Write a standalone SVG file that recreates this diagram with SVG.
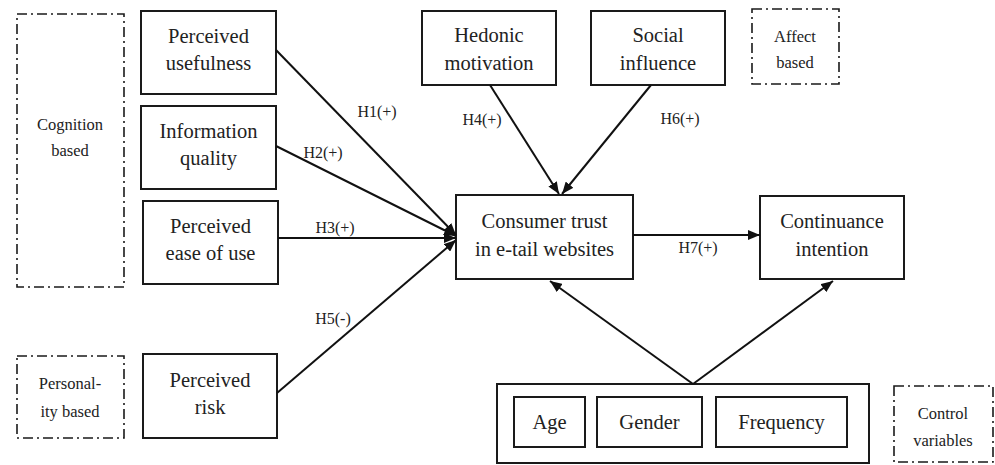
<svg xmlns="http://www.w3.org/2000/svg" width="995" height="465" viewBox="0 0 995 465">
<defs>
<style>
.n{fill:#fff;stroke:#1a1a1a;stroke-width:2}
.d{fill:none;stroke:#1a1a1a;stroke-width:1.6;stroke-dasharray:10,4,2,4}
text{font-family:'Liberation Serif','DejaVu Serif',serif;fill:#222;text-anchor:middle}
.t{font-size:20.5px}
.s{font-size:16.5px}
.l{font-size:16px}
.c{stroke:#111;stroke-width:2;fill:none}
</style>
<marker id="ah" viewBox="0 0 12 10" refX="12" refY="5" markerWidth="12" markerHeight="10" markerUnits="userSpaceOnUse" orient="auto">
<path d="M0,0 L12,5 L0,10 z" fill="#111"/>
</marker>
</defs>
<rect width="995" height="465" fill="#fff"/>

<g id="cognition">
<rect class="d" x="17" y="14" width="107" height="273"/>
<text class="s" x="70" y="130">Cognition</text>
<text class="s" x="70" y="156">based</text>
</g>
<g id="personality">
<rect class="d" x="17" y="356" width="107" height="82"/>
<text class="s" x="70" y="389">Personal-</text>
<text class="s" x="70" y="417">ity based</text>
</g>
<g id="affect">
<rect class="d" x="752" y="9" width="87" height="75"/>
<text class="s" x="795" y="42">Affect</text>
<text class="s" x="795" y="68">based</text>
</g>
<g id="controlLabel">
<rect class="d" x="894" y="386" width="99" height="76"/>
<text class="s" x="943" y="419">Control</text>
<text class="s" x="943" y="446">variables</text>
</g>

<g id="pu">
<rect class="n" x="141" y="11" width="135" height="83"/>
<text class="t" x="208.5" y="43">Perceived</text>
<text class="t" x="208.5" y="70">usefulness</text>
</g>
<g id="iq">
<rect class="n" x="141" y="106" width="135" height="83"/>
<text class="t" x="208.5" y="138">Information</text>
<text class="t" x="208.5" y="165">quality</text>
</g>
<g id="peou">
<rect class="n" x="143" y="201" width="135" height="83"/>
<text class="t" x="210.5" y="233">Perceived</text>
<text class="t" x="210.5" y="260">ease of use</text>
</g>
<g id="pr">
<rect class="n" x="143" y="354" width="134" height="84"/>
<text class="t" x="210" y="387">Perceived</text>
<text class="t" x="210" y="414">risk</text>
</g>
<g id="hm">
<rect class="n" x="422" y="11" width="134" height="74"/>
<text class="t" x="489" y="42">Hedonic</text>
<text class="t" x="489" y="70">motivation</text>
</g>
<g id="si">
<rect class="n" x="591" y="11" width="134" height="74"/>
<text class="t" x="658" y="42">Social</text>
<text class="t" x="658" y="70">influence</text>
</g>
<g id="trust">
<rect class="n" x="456" y="195" width="177" height="84"/>
<text class="t" x="544.5" y="228">Consumer trust</text>
<text class="t" x="544.5" y="256">in e-tail websites</text>
</g>
<g id="ci">
<rect class="n" x="760" y="196" width="144" height="83"/>
<text class="t" x="832" y="228">Continuance</text>
<text class="t" x="832" y="256">intention</text>
</g>
<g id="controls">
<rect class="n" x="497" y="384" width="372" height="79"/>
<g id="age">
<rect class="n" x="514" y="397" width="71" height="50"/>
<text class="t" x="549.5" y="429">Age</text>
</g>
<g id="gender">
<rect class="n" x="597" y="397" width="105" height="50"/>
<text class="t" x="649.5" y="429">Gender</text>
</g>
<g id="frequency">
<rect class="n" x="716" y="397" width="131" height="50"/>
<text class="t" x="781.5" y="429">Frequency</text>
</g>
</g>

<g id="connectors">
<line class="c" x1="276" y1="50" x2="456" y2="235" marker-end="url(#ah)"/>
<line class="c" x1="276" y1="146" x2="456" y2="236" marker-end="url(#ah)"/>
<line class="c" x1="278" y1="238" x2="456" y2="238" marker-end="url(#ah)"/>
<line class="c" x1="277" y1="393" x2="456" y2="240" marker-end="url(#ah)"/>
<line class="c" x1="490" y1="85" x2="559" y2="194" marker-end="url(#ah)"/>
<line class="c" x1="651" y1="85" x2="562" y2="194" marker-end="url(#ah)"/>
<line class="c" x1="633" y1="235" x2="760" y2="235" marker-end="url(#ah)"/>
<line class="c" x1="693" y1="384" x2="550" y2="281" marker-end="url(#ah)"/>
<line class="c" x1="693" y1="384" x2="833" y2="281" marker-end="url(#ah)"/>
<text class="l" x="377" y="117">H1(+)</text>
<text class="l" x="323" y="158">H2(+)</text>
<text class="l" x="335" y="233">H3(+)</text>
<text class="l" x="482" y="125">H4(+)</text>
<text class="l" x="333" y="324">H5(-)</text>
<text class="l" x="680" y="124">H6(+)</text>
<text class="l" x="698" y="253">H7(+)</text>
</g>
</svg>
